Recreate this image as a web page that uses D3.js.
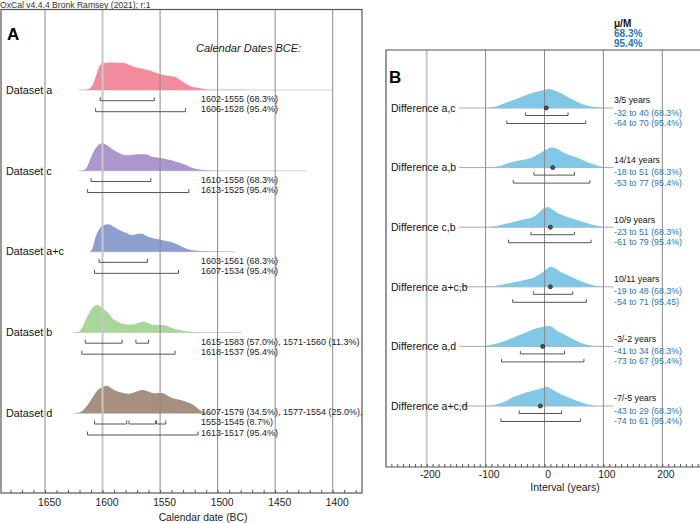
<!DOCTYPE html>
<html><head><meta charset="utf-8">
<script src="https://cdn.jsdelivr.net/npm/d3@7"></script>
<style>
html,body{margin:0;padding:0;background:#fff;}
svg{display:block;font-family:"Liberation Sans",Arial,sans-serif;}
</style></head><body>
<svg id="c" width="700" height="523"></svg>
<script>
// ---------- DATA: panel A ----------
const titleText = "OxCal v4.4.4 Bronk Ramsey (2021); r:1";
const datasetNames = ["Dataset a", "Dataset c", "Dataset a+c", "Dataset b", "Dataset d"];
const yearTicksA = [1650, 1600, 1550, 1500, 1450, 1400];
// densities: [year BC, relative probability]
const densA_a = [[1621,0],[1614,0.01],[1611,0.06],[1608,0.25],[1605,0.6],[1602,0.91],[1598,0.98],[1594,1.0],[1588,0.99],[1582,0.98],[1577,0.92],[1573,0.85],[1566,0.78],[1559,0.71],[1551,0.59],[1545,0.53],[1538,0.49],[1533,0.37],[1528,0.24],[1524,0.15],[1519,0.09],[1515,0.06],[1509,0.02],[1500,0.005],[1400,0]];
const densA_c = [[1621,0],[1617,0.02],[1614,0.1],[1611,0.39],[1608,0.68],[1604,0.92],[1601,1.0],[1597,0.95],[1591,0.78],[1586,0.66],[1580,0.57],[1575,0.58],[1570,0.6],[1565,0.6],[1561,0.59],[1557,0.5],[1551,0.48],[1546,0.44],[1541,0.39],[1536,0.33],[1531,0.27],[1527,0.2],[1524,0.14],[1518,0.07],[1509,0.02],[1500,0.005],[1423,0]];
const densA_ac = [[1611,0],[1609,0.1],[1606,0.54],[1602,0.87],[1598,0.98],[1595,1.0],[1590,0.9],[1585,0.78],[1579,0.68],[1574,0.6],[1570,0.64],[1567,0.66],[1563,0.6],[1559,0.52],[1555,0.48],[1551,0.45],[1546,0.4],[1541,0.36],[1536,0.28],[1531,0.18],[1527,0.11],[1524,0.07],[1519,0.04],[1515,0.02],[1505,0.005],[1485,0]];
const densA_b = [[1626,0],[1621,0.03],[1618,0.15],[1615,0.43],[1611,0.75],[1607,0.97],[1605,1.0],[1602,0.95],[1599,0.85],[1596,0.75],[1591,0.5],[1586,0.38],[1582,0.31],[1577,0.29],[1573,0.29],[1569,0.35],[1565,0.4],[1561,0.35],[1557,0.28],[1551,0.27],[1546,0.26],[1542,0.2],[1539,0.15],[1534,0.1],[1530,0.06],[1521,0.02],[1510,0.005],[1479,0]];
const densA_d = [[1625,0],[1620,0.03],[1617,0.11],[1613,0.3],[1609,0.56],[1606,0.75],[1604,0.85],[1600,0.95],[1596,1.0],[1592,0.9],[1587,0.79],[1582,0.74],[1578,0.71],[1572,0.77],[1565,0.85],[1560,0.79],[1556,0.73],[1551,0.74],[1547,0.73],[1543,0.63],[1539,0.55],[1534,0.5],[1530,0.46],[1525,0.38],[1521,0.3],[1518,0.2],[1515,0.1],[1512,0.04],[1509,0.01],[1505,0]];
const densitiesA = [densA_a, densA_c, densA_ac, densA_b, densA_d];
const ranges68A = [[[1602,1555]], [[1610,1558]], [[1603,1561]], [[1615,1583],[1571,1560]], [[1607,1579],[1577,1554],[1553,1545]]];
const pct68A = [["68.3%"], ["68.3%"], ["68.3%"], ["57.0%","11.3%"], ["34.5%","25.0%","8.7%"]];
const ranges95A = [[1606,1528], [1613,1525], [1607,1534], [1618,1537], [1613,1517]];
const colorsA = ["#f28c9c", "#ab97cb", "#8e9fcf", "#a9d79a", "#a89080"];

// ---------- DATA: panel B ----------
const diffNames = ["Difference a,c", "Difference a,b", "Difference c,b", "Difference a+c,b", "Difference a,d", "Difference a+c,d"];
const intervalTicksB = [-200, -100, 0, 100, 200];
const diffMean = [3, 14, 10, 10, -3, -7];
const diffMedian = [5, 14, 9, 11, -2, -5];
const diff68 = [[-32,40], [-18,51], [-23,51], [-19,48], [-41,34], [-43,29]];
const diff95 = [[-64,70], [-53,77], [-61,79], [-54,71], [-73,67], [-74,61]];
const diff95Label = ["95.4%", "95.4%", "95.4%", "95.45", "95.4%", "95.4%"];
const densB_ac = [[-110,0],[-95,0.01],[-80,0.1],[-69,0.22],[-50,0.42],[-30,0.65],[-10,0.82],[0,0.88],[8,0.93],[15,0.87],[27,0.73],[40,0.52],[55,0.31],[70,0.14],[83,0.06],[95,0.02],[106,0]];
const densB_ab = [[-100,0],[-87,0.03],[-70,0.13],[-58,0.25],[-45,0.33],[-30,0.42],[-20,0.5],[-10,0.66],[0,0.84],[12,0.98],[20,0.93],[32,0.74],[45,0.59],[55,0.49],[70,0.3],[83,0.16],[95,0.05],[106,0.01],[115,0]];
const densB_cb = [[-105,0],[-92,0.02],[-80,0.07],[-69,0.14],[-50,0.28],[-36,0.38],[-19,0.5],[-10,0.69],[-4,0.86],[6,0.98],[12,0.89],[21,0.71],[30,0.59],[43,0.46],[58,0.32],[72,0.21],[85,0.1],[94,0.05],[111,0]];
const densB_acb = [[-110,0],[-98,0.01],[-80,0.06],[-69,0.12],[-55,0.2],[-41,0.28],[-30,0.36],[-19,0.44],[-10,0.57],[-4,0.69],[4,0.88],[11,0.98],[18,0.9],[27,0.72],[38,0.59],[49,0.44],[62,0.27],[77,0.12],[88,0.04],[100,0]];
const densB_ad = [[-115,0],[-103,0.02],[-90,0.08],[-75,0.19],[-60,0.35],[-47,0.51],[-33,0.67],[-19,0.84],[-4,0.95],[7,1.0],[14,0.93],[21,0.76],[32,0.6],[43,0.44],[58,0.22],[72,0.08],[85,0.02],[95,0]];
const densB_acd = [[-110,0],[-98,0.01],[-85,0.06],[-75,0.13],[-63,0.28],[-52,0.45],[-40,0.57],[-30,0.67],[-20,0.75],[-10,0.82],[0,0.91],[2,0.94],[8,0.9],[15,0.78],[25,0.61],[38,0.45],[50,0.31],[60,0.21],[72,0.09],[83,0.03],[95,0]];
const densitiesB = [densB_ac, densB_ab, densB_cb, densB_acb, densB_ad, densB_acd];
const headerB = ["μ/M", "68.3%", "95.4%"];

// ---------- DRAW ----------
const svg = d3.select("#c");
const blue = "#2a78b4";

svg.append("text").attr("x", 0).attr("y", 7.5).attr("font-size", 8.6).attr("fill", "#333").text(titleText);

// ===== Panel A =====
const A = {left: 1, right: 362, top: 9.5, bottom: 493};
const xA = d3.scaleLinear().domain([1650, 1400]).range([45, 332.7]);
const rowA = d3.scalePoint().domain(datasetNames).range([90, 413.3]);
const hA = d3.scaleLinear().domain([0, 1]).range([0, 27.5]);
const gA = svg.append("g");

// baselines
datasetNames.forEach((n, i) => {
  const d = densitiesA[i], y = rowA(n);
  gA.append("line").attr("x1", xA(d[0][0])).attr("x2", xA(d[d.length-1][0]))
    .attr("y1", y).attr("y2", y).attr("stroke", "#cfcfcf").attr("stroke-width", 1);
});
// densities
datasetNames.forEach((n, i) => {
  const y = rowA(n);
  const area = d3.area().x(d => xA(d[0])).y0(y).y1(d => y - hA(d[1])).curve(d3.curveMonotoneX);
  gA.append("path").datum(densitiesA[i]).attr("d", area).attr("fill", colorsA[i]);
});
// gridlines
gA.selectAll("line.grid").data(yearTicksA).join("line").attr("class", "grid")
  .attr("x1", d => xA(d)).attr("x2", d => xA(d)).attr("y1", A.top).attr("y2", A.bottom)
  .attr("stroke", d => d === 1600 ? "#c8c8c8" : "#8a8a8a")
  .attr("stroke-width", d => d === 1600 ? 2 : 1);

function bracket(g, x1, x2, y, t) {
  g.append("path").attr("d", `M${x1},${y - t}V${y}H${x2}V${y - t}`)
    .attr("fill", "none").attr("stroke", "#555").attr("stroke-width", 1);
}
// brackets + texts
datasetNames.forEach((n, i) => {
  const y = rowA(n);
  ranges68A[i].forEach(r => bracket(gA, xA(r[0]), xA(r[1]), y + 10.7, 3.5));
  bracket(gA, xA(ranges95A[i][0]), xA(ranges95A[i][1]), y + 21.7, 3.5);
  const items = ranges68A[i].map((r, k) => `${r[0]}-${r[1]} (${pct68A[i][k]})`);
  const lines = [];
  for (let k = 0; k < items.length; k += 2) {
    const chunk = items.slice(k, k + 2).join(", ");
    lines.push(k + 2 < items.length ? chunk + "," : chunk);
  }
  lines.push(`${ranges95A[i][0]}-${ranges95A[i][1]} (95.4%)`);
  const n2 = lines.length;
  lines.forEach((t, k) => {
    gA.append("text").attr("x", 201).attr("y", y + 22.4 - (n2 - 1 - k) * 10.3)
      .attr("font-size", 9).attr("fill", "#222").text(t);
  });
  gA.append("text").attr("x", 6).attr("y", y + 3.8).attr("font-size", 10.8).attr("fill", "#111").text(n);
});

gA.append("text").attr("x", 7).attr("y", 40).attr("font-size", 17).attr("font-weight", "bold").text("A");
gA.append("text").attr("x", 196).attr("y", 52).attr("font-size", 11).attr("font-style", "italic").attr("fill", "#222").text("Calendar Dates BCE:");

// axis A
const xAext = d3.scaleLinear().domain([xA.invert(A.left), xA.invert(A.right)]).range([A.left, A.right]);
gA.append("g").attr("transform", `translate(0,${A.bottom})`)
  .call(d3.axisBottom(xAext).tickValues(d3.range(1380, 1690, 10)).tickSizeInner(-3).tickSizeOuter(0).tickFormat(""))
  .call(g => { g.select(".domain").remove(); g.selectAll("line").attr("stroke", "#555"); });
gA.append("g").attr("transform", `translate(0,${A.bottom})`)
  .call(d3.axisBottom(xA).tickValues(yearTicksA).tickSize(0).tickPadding(5.5).tickFormat(d3.format("d")))
  .call(g => { g.select(".domain").remove(); g.selectAll("text").attr("font-size", 10.3).attr("dx", 4).attr("fill", "#222").attr("font-family", "Liberation Sans,Arial,sans-serif"); });
gA.append("rect").attr("x", A.left).attr("y", A.top).attr("width", A.right - A.left).attr("height", A.bottom - A.top)
  .attr("fill", "none").attr("stroke", "#555").attr("stroke-width", 1.2);
gA.append("text").attr("x", 203).attr("y", 520.5).attr("text-anchor", "middle").attr("font-size", 10.3).attr("fill", "#222").text("Calendar date (BC)");

// ===== Panel B =====
const B = {left: 386, right: 720, top: 50, bottom: 467};
const xB = d3.scaleLinear().domain([-200, 200]).range([426.7, 662.3]);
const rowB = d3.scalePoint().domain(diffNames).range([108, 406]);
const hB = d3.scaleLinear().domain([0, 1]).range([0, 20.5]);
const gB = svg.append("g");

diffNames.forEach((n, i) => {
  const y = rowB(n);
  gB.append("line").attr("x1", xB(-145)).attr("x2", xB(117)).attr("y1", y).attr("y2", y).attr("stroke", "#aaa").attr("stroke-width", 1);
  const area = d3.area().x(d => xB(d[0])).y0(y).y1(d => y - hB(d[1])).curve(d3.curveMonotoneX);
  gB.append("path").datum(densitiesB[i]).attr("d", area).attr("fill", "#80c8e6");
});
gB.selectAll("line.grid").data(intervalTicksB).join("line").attr("class", "grid")
  .attr("x1", d => xB(d)).attr("x2", d => xB(d)).attr("y1", B.top).attr("y2", B.bottom)
  .attr("stroke", d => d === -200 ? "#c8c8c8" : "#8a8a8a")
  .attr("stroke-width", d => d === -200 ? 2 : 1);

diffNames.forEach((n, i) => {
  const y = rowB(n);
  bracket(gB, xB(diff68[i][0]), xB(diff68[i][1]), y + 7.5, 3);
  bracket(gB, xB(diff95[i][0]), xB(diff95[i][1]), y + 15.5, 3);
  gB.append("circle").attr("cx", xB(diffMean[i])).attr("cy", y).attr("r", 2)
    .attr("fill", "#555").attr("stroke", "#222").attr("stroke-width", 0.8);
  gB.append("text").attr("x", 391).attr("y", y + 3.7).attr("font-size", 10.5).attr("fill", "#111").text(n);
  const tx = 614;
  gB.append("text").attr("x", tx).attr("y", y - 4.7).attr("font-size", 8.8).attr("fill", "#111")
    .text(`${diffMean[i]}/${diffMedian[i]} years`);
  gB.append("text").attr("x", tx).attr("y", y + 7.5).attr("font-size", 8.8).attr("fill", blue)
    .text(`${diff68[i][0]} to ${diff68[i][1]} (68.3%)`);
  gB.append("text").attr("x", tx).attr("y", y + 18).attr("font-size", 8.8).attr("fill", blue)
    .text(`${diff95[i][0]} to ${diff95[i][1]} (${diff95Label[i]})`);
});

headerB.forEach((t, k) => {
  gB.append("text").attr("x", 614).attr("y", 27 + k * 10.2).attr("font-size", 10).attr("font-weight", "bold")
    .attr("fill", k === 0 ? "#111" : blue).text(t);
});
gB.append("text").attr("x", 389).attr("y", 83).attr("font-size", 17).attr("font-weight", "bold").text("B");

const xBext = d3.scaleLinear().domain([xB.invert(B.left), xB.invert(700)]).range([B.left, 700]);
gB.append("g").attr("transform", `translate(0,${B.bottom})`)
  .call(d3.axisBottom(xBext).tickValues(d3.range(-260, 270, 10)).tickSizeInner(-3).tickSizeOuter(0).tickFormat(""))
  .call(g => { g.select(".domain").remove(); g.selectAll("line").attr("stroke", "#555"); });
gB.append("g").attr("transform", `translate(0,${B.bottom})`)
  .call(d3.axisBottom(xB).tickValues(intervalTicksB).tickSize(0).tickPadding(3.5).tickFormat(d => d < 0 ? "-" + Math.abs(d) : String(d)))
  .call(g => { g.select(".domain").remove(); g.selectAll("text").attr("font-size", 10.3).attr("dx", 3).attr("fill", "#222").attr("font-family", "Liberation Sans,Arial,sans-serif"); });
gB.append("path").attr("d", `M${B.right},${B.top}H${B.left}V${B.bottom}H${B.right}`)
  .attr("fill", "none").attr("stroke", "#555").attr("stroke-width", 1.2);
gB.append("text").attr("x", 565).attr("y", 491).attr("text-anchor", "middle").attr("font-size", 10.4).attr("fill", "#222").text("Interval (years)");
</script>
</body></html>
